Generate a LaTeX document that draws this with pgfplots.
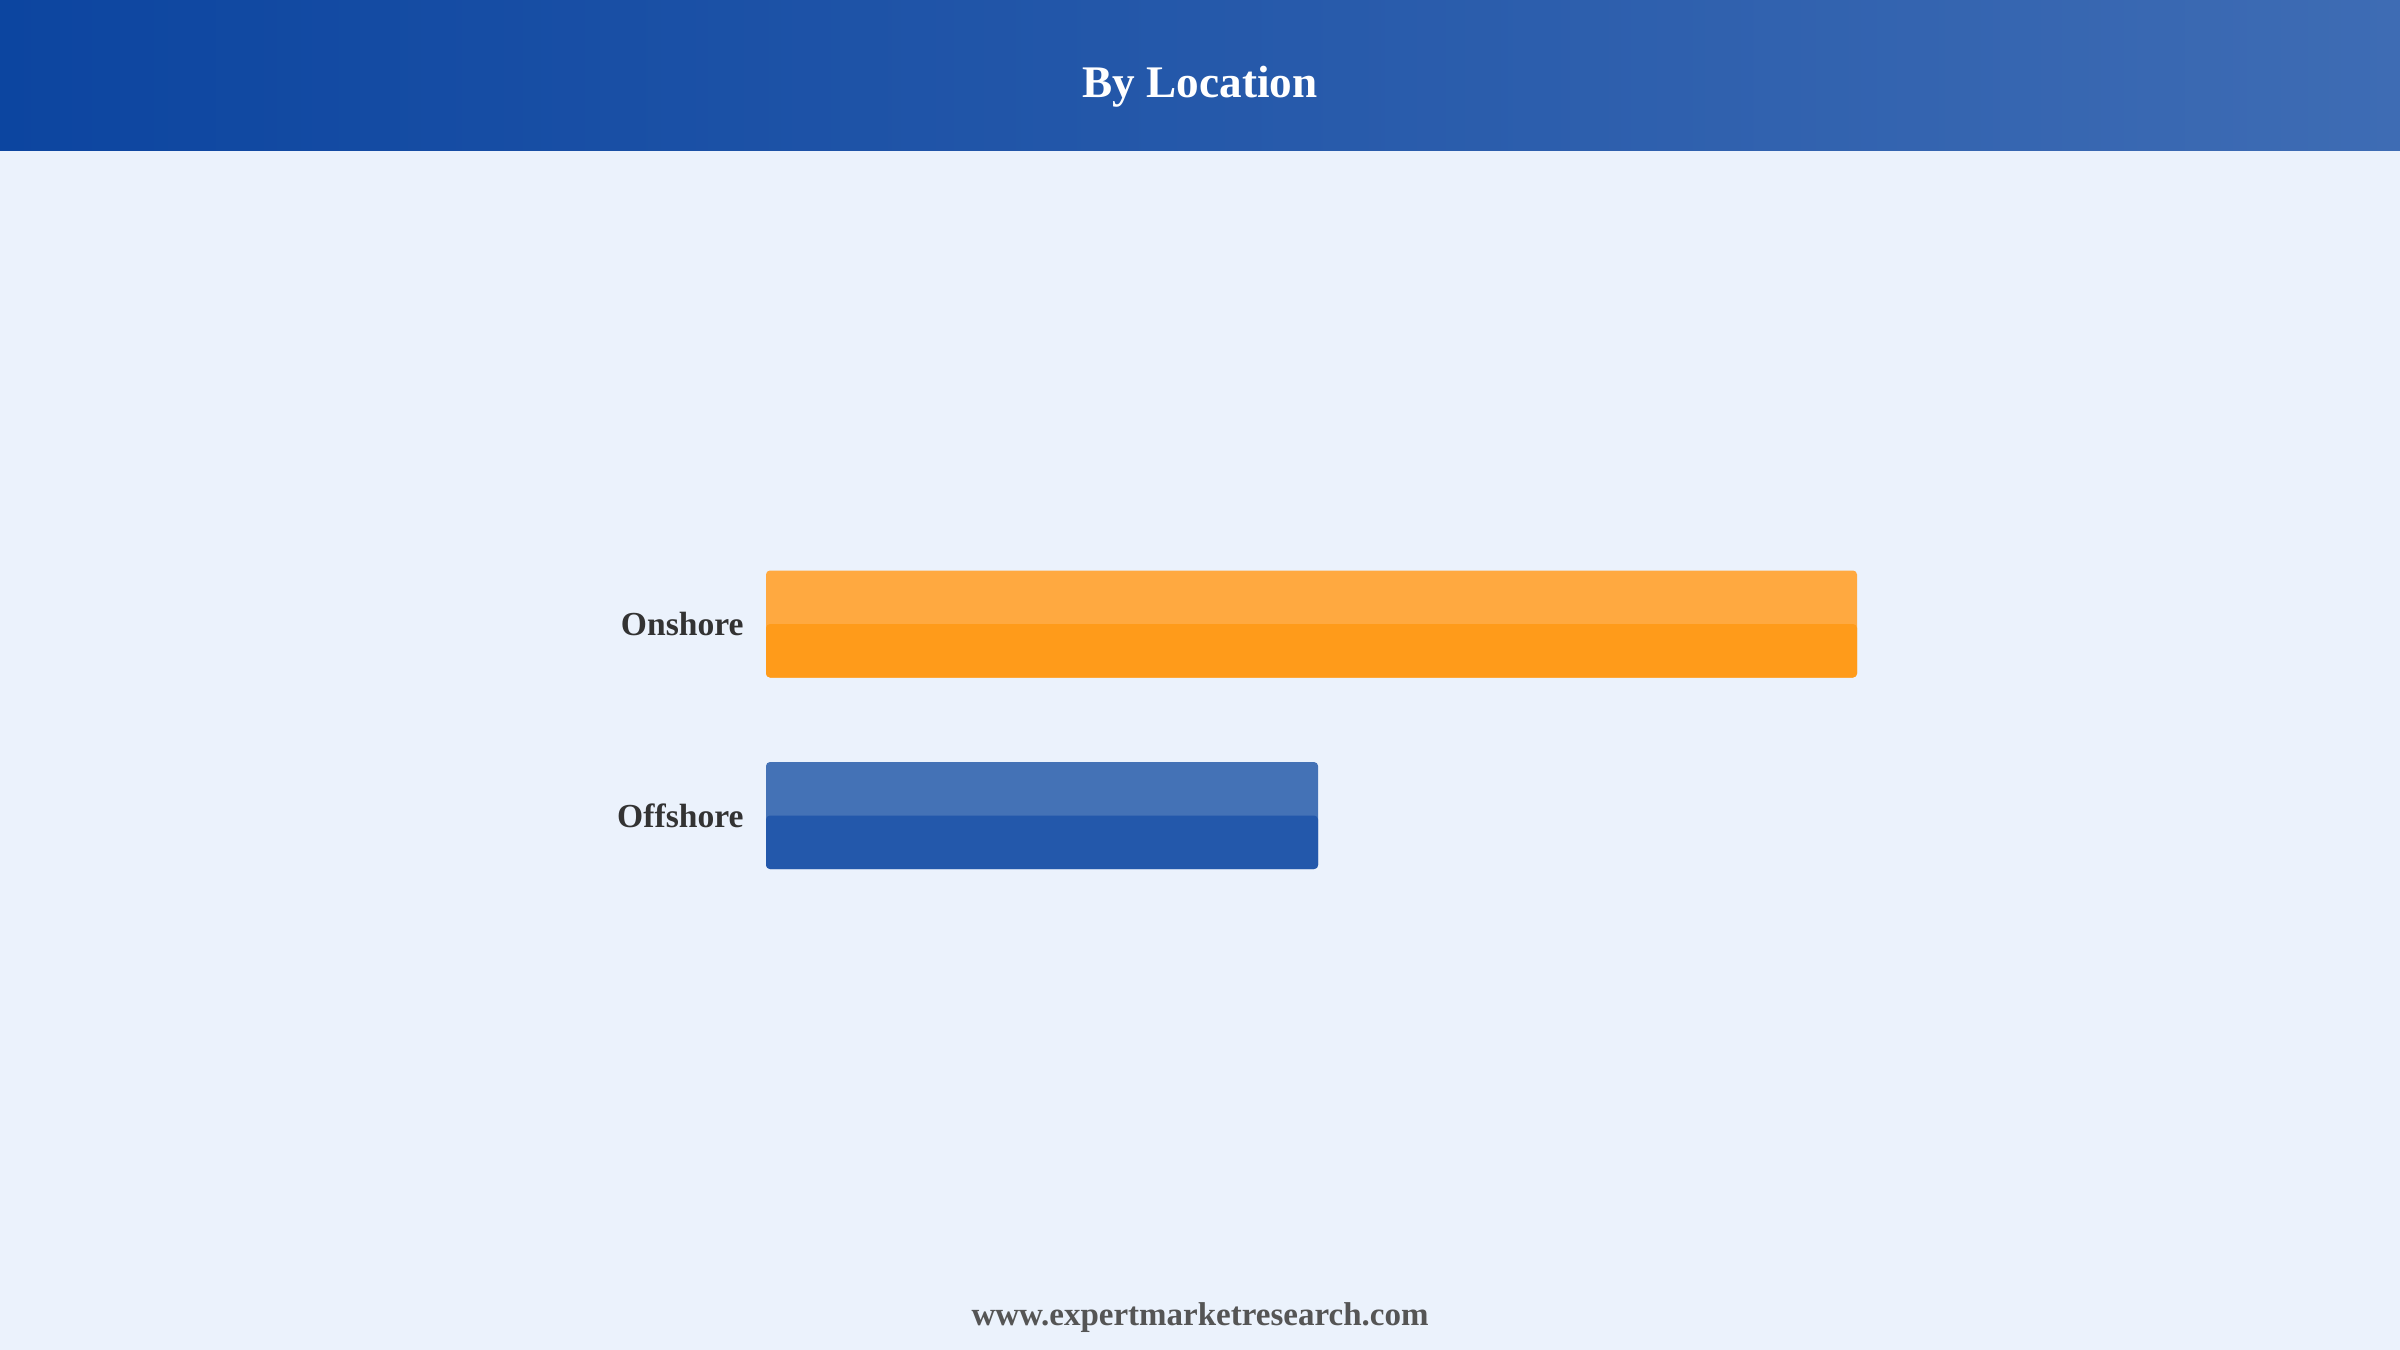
\documentclass[border=0pt]{standalone}
\usepackage{pgfplots}
\pgfplotsset{compat=1.18}
\usepackage{fontspec}
\setmainfont{Liberation Serif}
\definecolor{bg}{RGB}{235,242,252}
\definecolor{hdrL}{RGB}{12,69,160}
\definecolor{hdrR}{RGB}{62,108,180}
\definecolor{onL}{RGB}{255,169,64}
\definecolor{onD}{RGB}{255,155,26}
\definecolor{offL}{RGB}{68,114,182}
\definecolor{offD}{RGB}{35,88,171}
\definecolor{lbl}{RGB}{51,51,51}
\definecolor{ftr}{RGB}{85,85,85}
\begin{document}
\begin{tikzpicture}
\fill[bg] (0,0) rectangle (1200pt,-675pt);
\shade[left color=hdrL, right color=hdrR] (0,0) rectangle (1200pt,-75pt);
\node[anchor=base, text=white, font=\bfseries\fontsize{22.6}{27}\selectfont] at (600pt,-48.5pt) {By Location};
\node[anchor=base, text=ftr, font=\bfseries\fontsize{16.5}{20}\selectfont] at (600pt,-662.5pt) {www.expertmarketresearch.com};
\begin{axis}[
  at={(383pt,-407.75pt)}, anchor=south west,
  scale only axis, width=545.5pt, height=95.75pt,
  xmin=0, xmax=66.4, ymin=0, ymax=1,
  enlargelimits=false, clip=false,
  axis line style={draw=none},
  xtick=\empty, ytick={0,1}, yticklabels={Offshore,Onshore},
  major tick length=0pt, tick style={draw=none},
  yticklabel style={font=\bfseries\fontsize{16.8}{20}\selectfont, text=lbl, xshift=-7.7pt},
  xbar, bar width=0.5587,
]
\addplot[fill=onL, draw=none, rounded corners=2pt, bar shift=0] coordinates {(66.4,1)};
\addplot[fill=onD, draw=none, rounded corners=2pt, bar width=0.2794, bar shift=-0.1397] coordinates {(66.4,1)};
\addplot[fill=offL, draw=none, rounded corners=2pt, bar shift=0] coordinates {(33.6,0)};
\addplot[fill=offD, draw=none, rounded corners=2pt, bar width=0.2794, bar shift=-0.1397] coordinates {(33.6,0)};
\end{axis}
\pgfresetboundingbox
\useasboundingbox (0,0) rectangle (1200pt,-675pt);
\end{tikzpicture}
\end{document}
